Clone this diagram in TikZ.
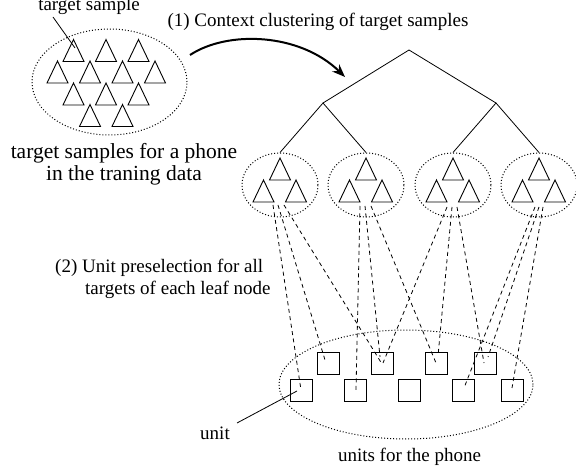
\documentclass[tikz,border=0pt]{standalone}
\usepackage{fontspec}
\setmainfont{Liberation Serif}
\usetikzlibrary{shapes.geometric,arrows.meta}
\begin{document}
\begin{tikzpicture}[x=1pt,y=-1pt,
  lbl/.style={inner sep=0pt,font=\fontsize{19}{22}\selectfont},
  biglbl/.style={inner sep=0pt,font=\fontsize{21.5}{22}\selectfont},
  tri/.pic={\draw[line width=0.9pt,line join=miter] (-10.5,11)--(0,-11)--(10.5,11)--cycle;},
  dotline/.style={line width=1pt,dash pattern=on 1pt off 2pt},
  grp/.style={draw,ellipse,dotline,inner sep=0pt},
  unitbox/.style={draw,line width=0.9pt,minimum size=22pt,inner sep=0pt},
  treeline/.style={line width=0.8pt},
  selline/.style={line width=0.8pt,dash pattern=on 4pt off 3.5pt},
  leader/.style={line width=0.8pt}
]
\useasboundingbox (0,0) rectangle (576,470);

% pool of target samples
\node[grp,minimum width=155pt,minimum height=106pt] (pool) at (109.5,82) {};
\foreach \x in {73.5,106,138.5} \pic at (\x,50.5) {tri};
\foreach \x in {57.5,90,122.5,155} \pic at (\x,72) {tri};
\foreach \x in {73.5,106,138.5} \pic at (\x,94) {tri};
\foreach \x in {90,122.5} \pic at (\x,115.5) {tri};

\node[lbl,anchor=base] (tslbl) at (89,11) {target sample};
\coordinate (tsa) at (53,17);
\coordinate (tsb) at (75,48);
\draw[leader] (tsa) -- (tsb);

\node[biglbl,align=center] (poollbl) at (124,164) {target samples for a phone\\in the traning data};

% step 1
\node[lbl,anchor=base] (step1) at (318,27) {(1) Context clustering of target samples};
\coordinate (arrA) at (190,55);
\coordinate (arrB) at (345,77);
\draw[line width=2pt,-{Stealth[length=13pt,width=10pt]}] (arrA) .. controls (228,30) and (300,33) .. (arrB);

% tree
\coordinate (root) at (409,50);
\coordinate (n1) at (323,103);
\coordinate (n2) at (496,103);
\foreach \i/\x in {1/280,2/366,3/453,4/539}{
  \node[grp,minimum width=76pt,minimum height=64pt] (L\i) at (\x,185) {};
  \pic at (\x,169) {tri};
  \pic at (\x-16.5,191) {tri};
  \pic at (\x+16,191) {tri};
}
\draw[treeline] (n1) -- (root) -- (n2);
\draw[treeline] (L1.north) -- (n1) -- (L2.north);
\draw[treeline] (L3.north) -- (n2) -- (L4.north);

% units
\node[grp,minimum width=254pt,minimum height=109pt] (units) at (406,384.5) {};
\node[unitbox] (s1) at (328,363.5) {};
\node[unitbox] (s2) at (382.5,363.5) {};
\node[unitbox] (s3) at (436,363.5) {};
\node[unitbox] (s4) at (485,363.5) {};
\node[unitbox] (b1) at (301,390.5) {};
\node[unitbox] (b2) at (355,390.5) {};
\node[unitbox] (b3) at (409.5,390.5) {};
\node[unitbox] (b4) at (463,390.5) {};
\node[unitbox] (b5) at (512,390.5) {};

% start points
\coordinate (L1a) at (273,205);
\coordinate (L1b) at (278,205);
\coordinate (L1c) at (284,205);
\coordinate (L2a) at (360,206);
\coordinate (L2b) at (365,206);
\coordinate (L2c) at (371,206);
\coordinate (L3a) at (447,207);
\coordinate (L3b) at (452,207);
\coordinate (L3c) at (457,207);
\coordinate (L4a) at (535,207);
\coordinate (L4b) at (539,207);
\coordinate (L4c) at (543,207);
% end points inside unit boxes
\coordinate (E1a) at (301,390);
\coordinate (E1b) at (325,360);
\coordinate (E1c) at (382,364);
\coordinate (E2a) at (356,390);
\coordinate (E2b) at (380,357);
\coordinate (E2c) at (436,363);
\coordinate (E3a) at (383,363);
\coordinate (E3b) at (438,356);
\coordinate (E3c) at (484,363);
\coordinate (E4a) at (464,388);
\coordinate (E4b) at (488,357);
\coordinate (E4c) at (512,388);
\foreach \i in {1,2,3,4}{
  \foreach \j in {a,b,c}{
    \draw[selline] (L\i\j) -- (E\i\j);
  }
}

% labels
\node[lbl,align=left,anchor=west] (step2) at (55,278.5) {(2) Unit preselection for all\\\hspace*{30pt}targets of each leaf node};
\node[lbl,anchor=base] (unitlbl) at (215,439) {unit};
\coordinate (ula) at (237,423);
\coordinate (ulb) at (297,391);
\draw[leader] (ula) -- (ulb);
\node[lbl,anchor=base] (unitslbl) at (409.5,461) {units for the phone};
\end{tikzpicture}
\end{document}
